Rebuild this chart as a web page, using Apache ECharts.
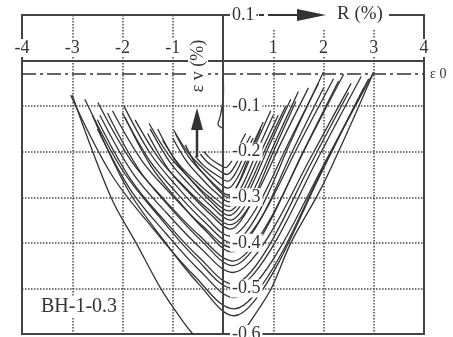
<!DOCTYPE html>
<html>
<head>
<meta charset="utf-8">
<script src="https://cdn.jsdelivr.net/npm/echarts@6/dist/echarts.min.js"></script>
<style>
  html, body { margin: 0; padding: 0; background: #fff; }
  #chart { width: 453px; height: 337px; }
</style>
</head>
<body>
<div id="chart"></div>
<script>
// R (%) on x, volumetric strain εv (%) on y
const xMin = -4, xMax = 4, xStep = 1;
const yMin = -0.6, yMax = 0.1, yStep = 0.1;
const eps0 = -0.03;
const specimen = 'BH-1-0.3';

const loop00 = [[0, 0], [0.01, -0.07], [-0.05, -0.12], [-0.1, -0.14], [0.02, -0.15]];
const loop01 = [[-0.38, -0.2], [-0.27, -0.213], [-0.165, -0.222], [-0.06, -0.229], [0.05, -0.235], [0.11, -0.23], [0.19, -0.217], [0.31, -0.19], [0.45, -0.16]];
const loop02 = [[-0.45, -0.205], [-0.32, -0.222], [-0.185, -0.233], [-0.05, -0.243], [0.08, -0.25], [0.15, -0.245], [0.245, -0.23], [0.385, -0.199], [0.55, -0.165]];
const loop03 = [[-0.55, -0.21], [-0.39, -0.23], [-0.225, -0.244], [-0.06, -0.256], [0.1, -0.265], [0.175, -0.259], [0.275, -0.242], [0.425, -0.208], [0.6, -0.17]];
const loop04 = [[-0.98, -0.153], [-0.71, -0.2], [-0.44, -0.232], [-0.17, -0.26], [0.1, -0.28], [0.205, -0.271], [0.345, -0.245], [0.555, -0.193], [0.8, -0.135]];
const loop05 = [[-0.95, -0.16], [-0.69, -0.21], [-0.425, -0.244], [-0.16, -0.273], [0.1, -0.295], [0.23, -0.284], [0.4, -0.25], [0.65, -0.184], [0.95, -0.11]];
const loop06 = [[-1.0, -0.17], [-0.72, -0.222], [-0.44, -0.257], [-0.16, -0.288], [0.12, -0.31], [0.25, -0.299], [0.43, -0.264], [0.69, -0.196], [1.0, -0.12]];
const loop07 = [[-1.47, -0.138], [-1.07, -0.209], [-0.675, -0.257], [-0.28, -0.299], [0.12, -0.33], [0.29, -0.316], [0.515, -0.275], [0.855, -0.192], [1.25, -0.1]];
const loop08 = [[-1.45, -0.15], [-1.05, -0.224], [-0.65, -0.274], [-0.25, -0.318], [0.15, -0.35], [0.35, -0.333], [0.62, -0.282], [1.03, -0.181], [1.5, -0.068]];
const loop09 = [[-1.5, -0.16], [-1.09, -0.238], [-0.675, -0.29], [-0.26, -0.336], [0.15, -0.37], [0.345, -0.353], [0.605, -0.303], [0.995, -0.202], [1.45, -0.09]];
const loop10 = [[-1.97, -0.1], [-1.44, -0.205], [-0.91, -0.277], [-0.38, -0.339], [0.15, -0.385], [0.41, -0.365], [0.76, -0.305], [1.29, -0.184], [1.9, -0.05]];
const loop11 = [[-2.0, -0.115], [-1.455, -0.22], [-0.91, -0.292], [-0.365, -0.354], [0.18, -0.4], [0.45, -0.378], [0.82, -0.31], [1.36, -0.175], [2.0, -0.025]];
const loop12 = [[-1.95, -0.125], [-1.42, -0.234], [-0.885, -0.308], [-0.35, -0.373], [0.18, -0.42], [0.45, -0.398], [0.82, -0.334], [1.36, -0.204], [2.0, -0.06]];
const loop13 = [[-2.49, -0.092], [-1.82, -0.221], [-1.145, -0.308], [-0.47, -0.384], [0.2, -0.44], [0.53, -0.415], [0.97, -0.342], [1.63, -0.194], [2.4, -0.03]];
const loop14 = [[-2.45, -0.12], [-1.79, -0.248], [-1.125, -0.334], [-0.46, -0.41], [0.2, -0.465], [0.55, -0.44], [1.02, -0.365], [1.73, -0.216], [2.55, -0.05]];
const loop15 = [[-2.5, -0.13], [-1.825, -0.263], [-1.15, -0.353], [-0.475, -0.432], [0.2, -0.49], [0.545, -0.465], [1.005, -0.389], [1.695, -0.238], [2.5, -0.07]];
const loop16 = [[-2.5, -0.15], [-1.82, -0.287], [-1.14, -0.379], [-0.46, -0.461], [0.22, -0.52], [0.64, -0.49], [1.19, -0.401], [2.03, -0.223], [3.0, -0.025]];
const loop17 = [[-3.03, -0.076], [-2.22, -0.25], [-1.405, -0.367], [-0.59, -0.47], [0.22, -0.545], [0.62, -0.515], [1.16, -0.424], [1.96, -0.242], [2.9, -0.04]];
const loop18 = [[-3.0, -0.076], [-2.23, -0.3], [-1.73, -0.4], [-1.24, -0.5], [-0.94, -0.55], [-0.6, -0.6], [-0.1, -0.65], [0.36, -0.6], [0.56, -0.57], [0.96, -0.5], [1.35, -0.4], [2.0, -0.27], [3.0, -0.025]];
// return half-cycles of the same amplitudes
const loop19 = [[-1.2, -0.175], [-0.87, -0.229], [-0.54, -0.265], [-0.21, -0.297], [0.12, -0.32], [0.27, -0.308], [0.463, -0.272], [0.757, -0.2], [1.1, -0.12]];
const loop20 = [[-1.75, -0.13], [-1.275, -0.215], [-0.8, -0.273], [-0.325, -0.323], [0.15, -0.36], [0.383, -0.342], [0.693, -0.288], [1.158, -0.18], [1.7, -0.06]];
const loop21 = [[-2.2, -0.11], [-1.605, -0.221], [-1.01, -0.296], [-0.415, -0.362], [0.18, -0.41], [0.483, -0.388], [0.887, -0.321], [1.493, -0.188], [2.2, -0.04]];
const loop22 = [[-2.3, -0.115], [-1.675, -0.239], [-1.05, -0.323], [-0.425, -0.396], [0.2, -0.45], [0.515, -0.426], [0.935, -0.353], [1.565, -0.207], [2.3, -0.045]];
const loop23 = [[-2.75, -0.085], [-2.01, -0.239], [-1.275, -0.342], [-0.538, -0.434], [0.2, -0.5], [0.583, -0.472], [1.093, -0.388], [1.858, -0.221], [2.75, -0.035]];
const loop24 = [[-0.75, -0.185], [-0.538, -0.228], [-0.325, -0.256], [-0.113, -0.282], [0.1, -0.3], [0.198, -0.291], [0.328, -0.264], [0.523, -0.21], [0.75, -0.15]];
const loop25 = [[-2.6, -0.12], [-1.895, -0.283], [-1.19, -0.393], [-0.485, -0.49], [0.22, -0.56], [0.607, -0.53], [1.123, -0.44], [1.897, -0.26], [2.8, -0.06]];
const loop26 = [[-1.3, -0.15], [-0.945, -0.22], [-0.59, -0.268], [-0.235, -0.31], [0.12, -0.34], [0.305, -0.325], [0.551, -0.279], [0.92, -0.187], [1.35, -0.085]];

const loops = [loop00, loop01, loop02, loop03, loop04, loop05, loop06, loop07, loop08, loop09,
  loop10, loop11, loop12, loop13, loop14, loop15, loop16, loop17, loop18,
  loop19, loop20, loop21, loop22, loop23, loop24, loop25, loop26];

const ink = '#333';
const serif = '"Liberation Serif", "DejaVu Serif", serif';
const dots = '#4a4a4a';

const chart = echarts.init(document.getElementById('chart'));

const series = loops.map((d) => ({
  type: 'line',
  data: d,
  smooth: 0.35,
  showSymbol: false,
  silent: true,
  lineStyle: { color: ink, width: 1.3 },
}));

// epsilon_0 dash-dot reference line
series.push({
  type: 'line',
  data: [],
  markLine: {
    silent: true,
    symbol: 'none',
    lineStyle: { color: ink, width: 1.6, type: [14, 4, 3, 4] },
    label: {
      position: 'end',
      distance: 6,
      formatter: 'ε 0',
      color: '#333',
      fontFamily: serif,
      fontSize: 14,
    },
    data: [{ yAxis: eps0 }],
  },
});

chart.setOption({
  animation: false,
  backgroundColor: '#fff',
  grid: {
    left: 22,
    right: 29,
    top: 15,
    bottom: 3,
    outerBoundsMode: 'none',
    show: true,
    borderColor: '#444',
    borderWidth: 2,
  },
  xAxis: {
    type: 'value',
    min: xMin,
    max: xMax,
    interval: xStep,
    position: 'top',
    z: 10,
    axisLine: { onZero: true, lineStyle: { color: '#444', width: 2 } },
    axisTick: { show: false },
    axisLabel: {
      margin: -42,
      showMinLabel: true,
      showMaxLabel: true,
      color: '#333',
      fontFamily: serif,
      fontSize: 18,
      backgroundColor: '#fff',
      padding: [0, 1],
      formatter: (v) => (v === 0 ? '' : String(v)),
    },
    splitLine: {
      show: true,
      lineStyle: {
        type: 'dotted',
        width: 1.5,
        color: ['transparent', dots, dots, dots, 'transparent', dots, dots, dots, 'transparent'],
      },
    },
  },
  yAxis: {
    type: 'value',
    min: yMin,
    max: yMax,
    interval: yStep,
    position: 'left',
    z: 10,
    axisLine: { onZero: true, lineStyle: { color: '#444', width: 2 } },
    axisTick: { show: false },
    axisLabel: {
      inside: true,
      margin: 208,
      showMinLabel: true,
      showMaxLabel: true,
      color: '#333',
      fontFamily: serif,
      fontSize: 18,
      backgroundColor: '#fff',
      padding: [0, 2],
      formatter: (v) => (Math.abs(v) < 1e-9 ? '' : v.toFixed(1)),
    },
    splitLine: {
      show: true,
      lineStyle: {
        type: 'dotted',
        width: 1.5,
        color: ['transparent', dots, dots, dots, dots, dots, 'transparent', 'transparent'],
      },
    },
  },
  graphic: [
    // "-- > R (%)" on the top frame
    { type: 'rect', z: 100, shape: { x: 258, y: 4, width: 131, height: 26 }, style: { fill: '#fff' } },
    { type: 'line', z: 101, shape: { x1: 259, y1: 15, x2: 264, y2: 15 }, style: { stroke: ink, lineWidth: 2 } },
    { type: 'line', z: 101, shape: { x1: 268, y1: 15, x2: 300, y2: 15 }, style: { stroke: ink, lineWidth: 2 } },
    { type: 'polygon', z: 101, shape: { points: [[297, 9], [326, 15], [297, 21]] }, style: { fill: ink } },
    { type: 'text', z: 101, left: 337, top: 5, style: { text: 'R (%)', fill: '#333', font: '19px ' + serif } },
    // εv (%) axis name with arrow
    {
      type: 'text', z: 100, x: 198, y: 66, rotation: Math.PI / 2,
      style: {
        text: 'ε v (%)', fill: '#333', font: '18px ' + serif,
        align: 'center', verticalAlign: 'middle', backgroundColor: '#fff', padding: [1, 3],
      },
    },
    { type: 'line', z: 100, shape: { x1: 197, y1: 126, x2: 197, y2: 157 }, style: { stroke: ink, lineWidth: 2.5 } },
    { type: 'polygon', z: 100, shape: { points: [[191, 130], [197, 108], [203, 130]] }, style: { fill: ink } },
    // specimen label
    {
      type: 'text', z: 100, left: 40, top: 297,
      style: { text: specimen, fill: '#333', font: '20px ' + serif, backgroundColor: '#fff', padding: [0, 1] },
    },
  ],
  series,
});
</script>
</body>
</html>
